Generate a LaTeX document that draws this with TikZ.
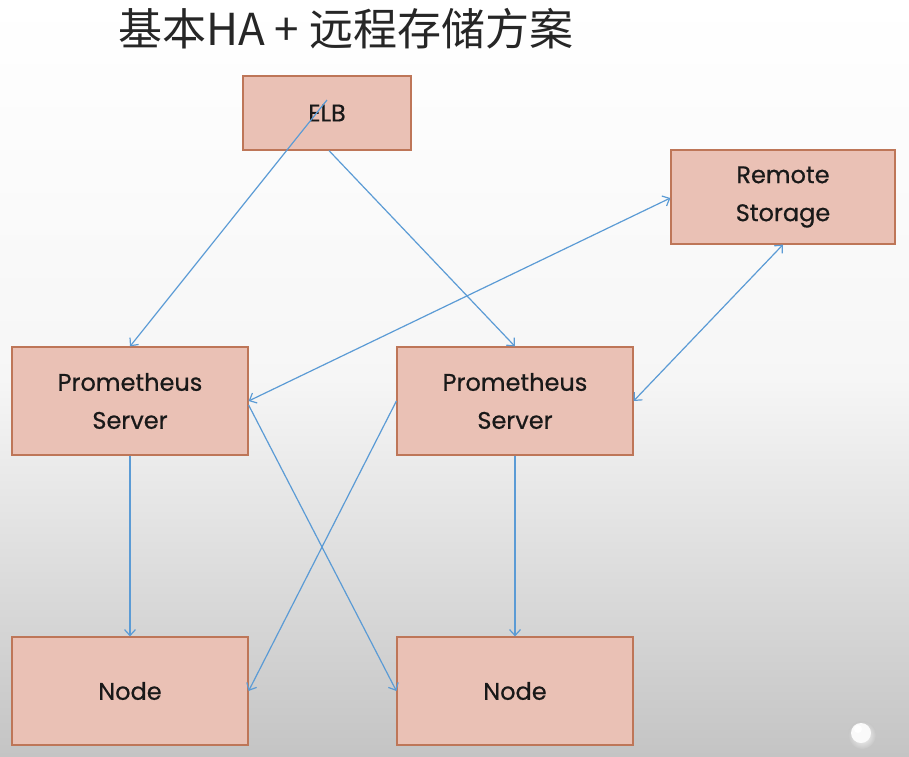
\documentclass[tikz,border=0pt]{standalone}
\usepackage{fontspec}
\setmainfont{Poppins}
\newfontfamily\boxfont{Poppins}[FakeBold=0.6]
\newfontfamily\cjk{Noto Sans CJK SC}
\usetikzlibrary{arrows.meta,calc}
\definecolor{boxfill}{RGB}{234,193,181}
\definecolor{boxline}{RGB}{190,118,88}
\definecolor{arrowblue}{RGB}{91,155,213}
\definecolor{bgbottom}{RGB}{196,196,196}
\tikzset{
  box/.style={draw=boxline, fill=boxfill, line width=1.2pt, minimum width=236pt, minimum height=108pt, align=center, inner sep=0pt, font=\boxfont\fontsize{24}{38}\selectfont, text=black!90},
  conn/.style={draw=arrowblue, line width=1.2pt, -{Straight Barb[length=6pt,width=11pt,line width=1.2pt]}},
  biconn/.style={draw=arrowblue, line width=1.2pt, {Straight Barb[length=6pt,width=11pt,line width=1.2pt]}-{Straight Barb[length=6pt,width=11pt,line width=1.2pt]}}
}
\begin{document}
\begin{tikzpicture}[x=1pt,y=-1pt]
\useasboundingbox (0,0) rectangle (909,756);
\shade[top color=white, bottom color=bgbottom, middle color=white!85!bgbottom] (0,0) rectangle (909,756);
\node[font=\cjk\fontsize{44}{48}\selectfont, text=black!85, anchor=west, inner sep=0pt] (title) at (118,29) {基本HA + 远程存储方案};
\node[box, minimum width=168pt, minimum height=74pt] (elb) at (327,113) {ELB};
\node[box, minimum width=224pt, minimum height=94pt] (rs) at (783,197) {Remote\\Storage};
\node[box] (ps1) at (130,401) {Prometheus\\Server};
\node[box] (ps2) at (515,401) {Prometheus\\Server};
\node[box] (n1) at (130,691) {Node};
\node[box] (n2) at (515,691) {Node};
\shade[inner color=white, outer color=gray!45] (862,735) circle (14pt);
\fill[white!96!gray] (861,733) circle (10pt);
\fill[white] (858,729) circle (4pt);
\draw[conn] ($(elb.center)+(0,-13)$) -- (ps1.north);
\draw[conn] ($(elb.south)+(2,0)$) -- (ps2.north);
\draw[biconn] (ps1.east) -- ($(rs.west)+(0,1)$);
\draw[biconn] (ps2.east) -- (rs.south);
\draw[conn] (ps1.south) -- (n1.north);
\draw[conn] (ps2.south) -- (n2.north);
\draw[conn] (ps2.west) -- (n1.east);
\draw[conn] ($(ps1.east)+(0,4)$) -- (n2.west);
\end{tikzpicture}
\end{document}
